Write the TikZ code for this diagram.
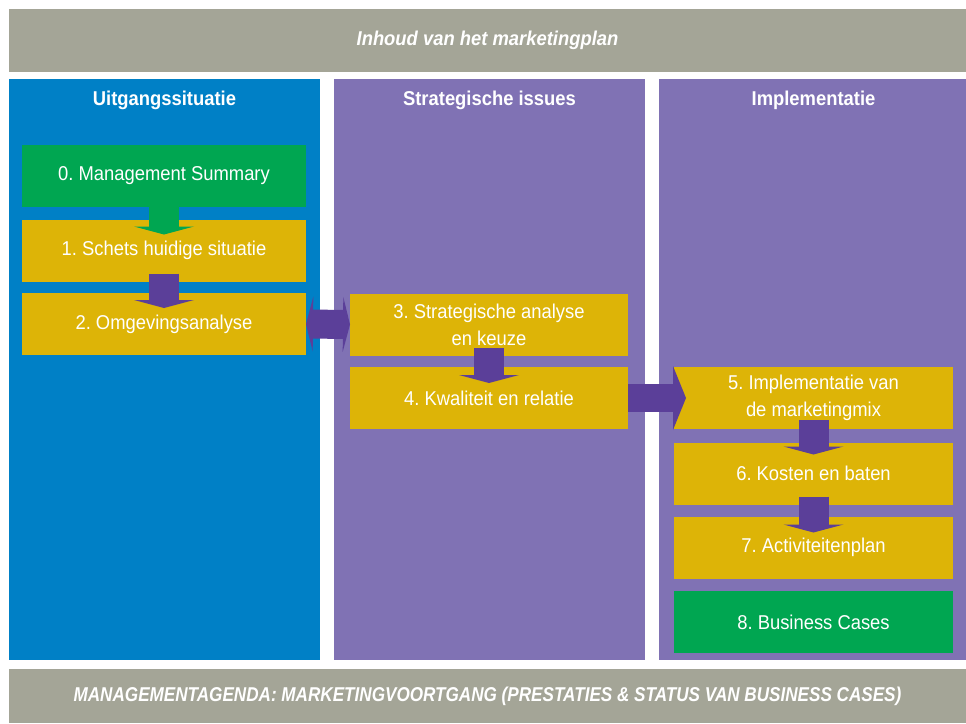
\documentclass[tikz,border=0pt]{standalone}
\usepackage{fontspec}
\setmainfont{Liberation Sans}[FakeStretch=0.92]
\usetikzlibrary{arrows.meta,calc}
\frenchspacing

\definecolor{barGray}{RGB}{164,165,151}
\definecolor{colBlue}{RGB}{0,128,198}
\definecolor{colPurple}{RGB}{128,114,180}
\definecolor{arrowPurple}{RGB}{91,63,153}
\definecolor{stepGold}{RGB}{221,180,7}
\definecolor{stepGreen}{RGB}{0,166,81}

\begin{document}
\begin{tikzpicture}[x=1pt,y=-1pt,
  every node/.style={inner sep=0pt, outer sep=0pt, text=white,
    font=\fontsize{20pt}{27pt}\selectfont},
  band/.style={fill=barGray, anchor=north west, minimum width=957pt,
    font=\fontsize{20pt}{27pt}\selectfont\bfseries\itshape},
  column/.style={fill=#1, anchor=north west, minimum height=581pt},
  coltitle/.style={font=\fontsize{20pt}{27pt}\selectfont\bfseries},
  stepbox/.style={fill=#1, minimum height=62pt, align=center},
  stepbox/.default=stepGold,
  vflow/.style={draw=#1, line width=30pt,
    -{Triangle[width=60pt,length=8pt,line width=0pt]}},
  vflow/.default=arrowPurple,
  sidehead/.tip={Triangle[width=55pt,length=7pt,line width=0pt]}
]
\useasboundingbox (0,0) rectangle (966,723);

% header and footer bands
\node[band, minimum height=63pt] (top) at (9,9) {Inhoud van het marketingplan};
\node[band, minimum height=54pt] (bottom) at (9,669)
  {\scalebox{0.93}[1]{MANAGEMENTAGENDA: MARKETINGVOORTGANG (PRESTATIES \& STATUS VAN BUSINESS CASES)}};

% the three columns
\node[column=colBlue, minimum width=311pt] (c1) at (9,79) {};
\node[column=colPurple, minimum width=311pt] (c2) at (334,79) {};
\node[column=colPurple, minimum width=307pt] (c3) at (659,79) {};

\node[coltitle] (t1) at (164.5,100) {Uitgangssituatie};
\node[coltitle] (t2) at (489.5,100) {Strategische issues};
\node[coltitle] (t3) at (813.5,100) {Implementatie};

% steps
\node[stepbox=stepGreen, minimum width=284pt] (b0) at (164,176) {0. Management Summary};
\node[stepbox, minimum width=284pt] (b1) at (164,250.5) {1. Schets huidige situatie};
\node[stepbox, minimum width=284pt] (b2) at (164,324) {2. Omgevingsanalyse};

\node[stepbox, minimum width=278pt] (b3) at (489,324.5) {3. Strategische analyse\\en keuze};
\node[stepbox, minimum width=278pt] (b4) at (489,398) {4. Kwaliteit en relatie};

\node[stepbox, minimum width=279pt] (b5) at (813.5,398) {5. Implementatie van\\de marketingmix};
\node[stepbox, minimum width=279pt] (b6) at (813.5,473.5) {6. Kosten en baten};
\node[stepbox, minimum width=279pt] (b7) at (813.5,547.5) {7. Activiteitenplan};
\node[stepbox=stepGreen, minimum width=279pt] (b8) at (813.5,622) {8. Business Cases};

% flow arrows
\draw[vflow=stepGreen] (b0.south) -- ($(b1.north)+(0,-15pt)$);
\draw[vflow] ($(b1.south)+(0,8pt)$) -- ($(b2.north)+(0,-15pt)$);
\draw[vflow] ($(b3.south)+(0,8pt)$) -- ($(b4.north)+(0,-16pt)$);
\draw[vflow] ($(b5.south)+(0,9pt)$) -- ($(b6.north)+(0,-12pt)$);
\draw[vflow] ($(b6.south)+(0,8pt)$) -- ($(b7.north)+(0,-16pt)$);

\draw[draw=arrowPurple, line width=29pt, sidehead-sidehead]
  (b2.east) -- (b3.west);
\draw[draw=arrowPurple, line width=28pt,
  -{Triangle[width=64pt,length=13pt,line width=0pt]}]
  (b4.east) -- ($(b5.west)+(12pt,0)$);
\end{tikzpicture}
\end{document}
